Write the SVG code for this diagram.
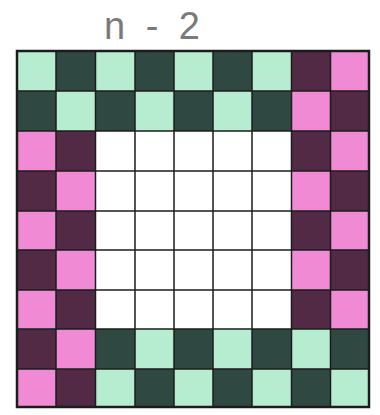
<svg xmlns="http://www.w3.org/2000/svg" width="380" height="415" viewBox="0 0 380 415">
<style>
.lg{fill:#b6eccf}
.dg{fill:#2f4842}
.pk{fill:#f08ad4}
.mr{fill:#522a45}
.wh{fill:#ffffff}
.grid{stroke:#1c1c1c;stroke-width:1.5;fill:none}
.title{font-family:"Liberation Sans",Arial,sans-serif;font-size:38px;fill:#7a7a7a;font-weight:300}
</style>
<rect x="0" y="0" width="380" height="415" fill="#ffffff"/>
<text class="title" x="104" y="39" textLength="96" lengthAdjust="spacing">n-2</text>
<g id="cells">
<!-- row 0 -->
<rect class="lg" x="17" y="51" width="39" height="40"/>
<rect class="dg" x="56" y="51" width="39.5" height="40"/>
<rect class="lg" x="95.5" y="51" width="39.5" height="40"/>
<rect class="dg" x="135" y="51" width="39" height="40"/>
<rect class="lg" x="174" y="51" width="39" height="40"/>
<rect class="dg" x="213" y="51" width="39" height="40"/>
<rect class="lg" x="252" y="51" width="39.5" height="40"/>
<rect class="mr" x="291.5" y="51" width="39" height="40"/>
<rect class="pk" x="330.5" y="51" width="38.5" height="40"/>
<!-- row 1 -->
<rect class="dg" x="17" y="91" width="39" height="40"/>
<rect class="lg" x="56" y="91" width="39.5" height="40"/>
<rect class="dg" x="95.5" y="91" width="39.5" height="40"/>
<rect class="lg" x="135" y="91" width="39" height="40"/>
<rect class="dg" x="174" y="91" width="39" height="40"/>
<rect class="lg" x="213" y="91" width="39" height="40"/>
<rect class="dg" x="252" y="91" width="39.5" height="40"/>
<rect class="pk" x="291.5" y="91" width="39" height="40"/>
<rect class="mr" x="330.5" y="91" width="38.5" height="40"/>
<!-- rows 2-6 sides -->
<rect class="pk" x="17" y="131" width="39" height="40"/>
<rect class="mr" x="56" y="131" width="39.5" height="40"/>
<rect class="mr" x="291.5" y="131" width="39" height="40"/>
<rect class="pk" x="330.5" y="131" width="38.5" height="40"/>
<rect class="mr" x="17" y="171" width="39" height="40"/>
<rect class="pk" x="56" y="171" width="39.5" height="40"/>
<rect class="pk" x="291.5" y="171" width="39" height="40"/>
<rect class="mr" x="330.5" y="171" width="38.5" height="40"/>
<rect class="pk" x="17" y="211" width="39" height="39"/>
<rect class="mr" x="56" y="211" width="39.5" height="39"/>
<rect class="mr" x="291.5" y="211" width="39" height="39"/>
<rect class="pk" x="330.5" y="211" width="38.5" height="39"/>
<rect class="mr" x="17" y="250" width="39" height="40"/>
<rect class="pk" x="56" y="250" width="39.5" height="40"/>
<rect class="pk" x="291.5" y="250" width="39" height="40"/>
<rect class="mr" x="330.5" y="250" width="38.5" height="40"/>
<rect class="pk" x="17" y="290" width="39" height="39"/>
<rect class="mr" x="56" y="290" width="39.5" height="39"/>
<rect class="mr" x="291.5" y="290" width="39" height="39"/>
<rect class="pk" x="330.5" y="290" width="38.5" height="39"/>
<!-- white centre -->
<rect class="wh" x="95.5" y="131" width="196" height="198"/>
<!-- row 7 -->
<rect class="mr" x="17" y="329" width="39" height="40"/>
<rect class="pk" x="56" y="329" width="39.5" height="40"/>
<rect class="dg" x="95.5" y="329" width="39.5" height="40"/>
<rect class="lg" x="135" y="329" width="39" height="40"/>
<rect class="dg" x="174" y="329" width="39" height="40"/>
<rect class="lg" x="213" y="329" width="39" height="40"/>
<rect class="dg" x="252" y="329" width="39.5" height="40"/>
<rect class="lg" x="291.5" y="329" width="39" height="40"/>
<rect class="dg" x="330.5" y="329" width="38.5" height="40"/>
<!-- row 8 -->
<rect class="pk" x="17" y="369" width="39" height="38"/>
<rect class="mr" x="56" y="369" width="39.5" height="38"/>
<rect class="lg" x="95.5" y="369" width="39.5" height="38"/>
<rect class="dg" x="135" y="369" width="39" height="38"/>
<rect class="lg" x="174" y="369" width="39" height="38"/>
<rect class="dg" x="213" y="369" width="39" height="38"/>
<rect class="lg" x="252" y="369" width="39.5" height="38"/>
<rect class="dg" x="291.5" y="369" width="39" height="38"/>
<rect class="lg" x="330.5" y="369" width="38.5" height="38"/>
</g>
<g id="gridlines" class="grid">
<path d="M56 51V407M95.5 51V407M135 51V407M174 51V407M213 51V407M252 51V407M291.5 51V407M330.5 51V407"/>
<path d="M17 91H369M17 131H369M17 171H369M17 211H369M17 250H369M17 290H369M17 329H369M17 369H369"/>
<rect x="17" y="51" width="352" height="356" stroke-width="2.5"/>
</g>
</svg>
